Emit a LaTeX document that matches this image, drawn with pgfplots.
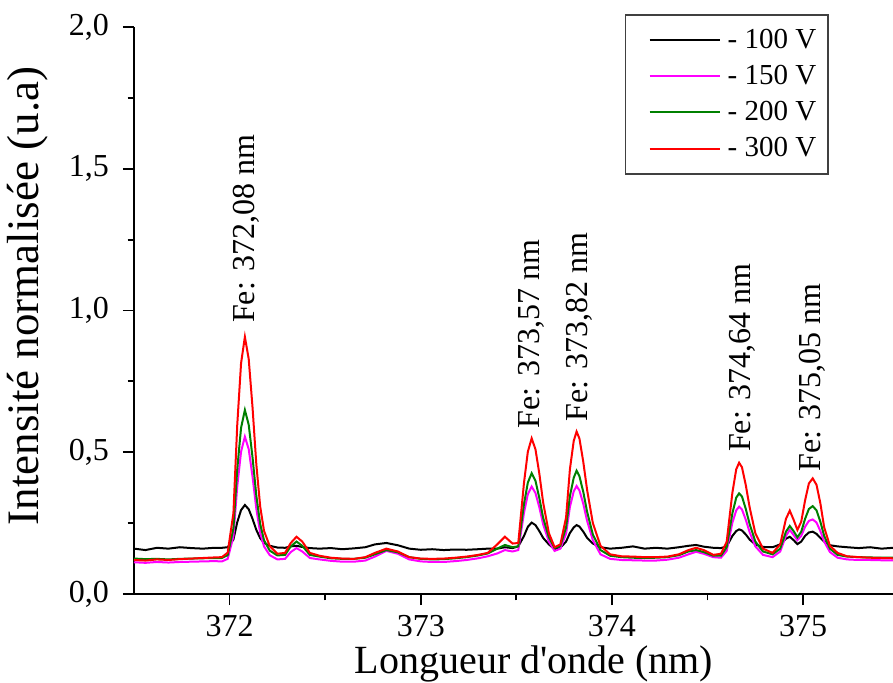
\documentclass[border=0pt]{standalone}
\usepackage{fontspec}
\setmainfont{Liberation Serif}
\usepackage{pgfplots}
\usepackage{pgfplotstable}
\pgfplotsset{compat=1.18}
\definecolor{cmag}{RGB}{255,0,255}
\definecolor{cgreen}{RGB}{0,128,0}
\definecolor{cred}{RGB}{255,0,0}
\pgfplotstableread{
x k m g r
371.50 0.160 0.112 0.125 0.120
371.56 0.155 0.110 0.123 0.118
371.62 0.163 0.113 0.124 0.122
371.68 0.160 0.111 0.122 0.120
371.74 0.165 0.113 0.124 0.123
371.80 0.162 0.114 0.125 0.125
371.86 0.160 0.115 0.126 0.127
371.92 0.163 0.116 0.127 0.129
371.96 0.163 0.115 0.127 0.130
371.99 0.165 0.124 0.137 0.146
372.02 0.192 0.203 0.231 0.285
372.04 0.253 0.379 0.440 0.596
372.06 0.296 0.502 0.586 0.814
372.08 0.314 0.555 0.649 0.907
372.10 0.299 0.511 0.597 0.829
372.12 0.265 0.414 0.482 0.658
372.14 0.226 0.300 0.346 0.456
372.16 0.197 0.216 0.247 0.309
372.18 0.180 0.168 0.190 0.223
372.21 0.170 0.137 0.153 0.169
372.25 0.164 0.122 0.136 0.142
372.29 0.163 0.124 0.138 0.145
372.32 0.168 0.148 0.168 0.180
372.35 0.170 0.162 0.185 0.202
372.38 0.166 0.150 0.170 0.185
372.42 0.162 0.127 0.138 0.145
372.47 0.160 0.122 0.132 0.135
372.53 0.162 0.117 0.126 0.128
372.59 0.158 0.114 0.124 0.125
372.65 0.161 0.114 0.124 0.124
372.71 0.165 0.118 0.128 0.130
372.76 0.175 0.132 0.140 0.145
372.82 0.180 0.152 0.155 0.160
372.88 0.172 0.142 0.147 0.150
372.94 0.160 0.122 0.130 0.130
373.00 0.156 0.115 0.124 0.125
373.06 0.158 0.113 0.122 0.124
373.12 0.155 0.113 0.123 0.125
373.18 0.157 0.116 0.126 0.128
373.24 0.156 0.120 0.130 0.132
373.30 0.158 0.126 0.136 0.138
373.35 0.160 0.133 0.143 0.145
373.40 0.160 0.143 0.160 0.175
373.44 0.165 0.155 0.173 0.202
373.48 0.162 0.150 0.165 0.178
373.51 0.168 0.155 0.168 0.180
373.54 0.205 0.287 0.318 0.393
373.56 0.237 0.352 0.393 0.502
373.58 0.252 0.379 0.426 0.549
373.60 0.243 0.356 0.399 0.510
373.62 0.222 0.306 0.339 0.425
373.64 0.198 0.246 0.269 0.323
373.67 0.175 0.185 0.200 0.215
373.70 0.158 0.152 0.162 0.165
373.73 0.163 0.160 0.170 0.175
373.76 0.185 0.213 0.235 0.270
373.78 0.215 0.307 0.345 0.440
373.80 0.235 0.362 0.410 0.540
373.815 0.243 0.381 0.435 0.573
373.83 0.238 0.365 0.415 0.548
373.85 0.220 0.318 0.360 0.466
373.87 0.198 0.258 0.290 0.367
373.90 0.178 0.190 0.210 0.250
373.94 0.165 0.140 0.155 0.170
373.99 0.160 0.124 0.135 0.140
374.05 0.163 0.120 0.130 0.133
374.11 0.168 0.119 0.128 0.132
374.17 0.160 0.118 0.127 0.130
374.23 0.163 0.118 0.128 0.130
374.29 0.160 0.121 0.130 0.132
374.35 0.165 0.128 0.137 0.140
374.40 0.170 0.140 0.150 0.155
374.44 0.173 0.149 0.155 0.163
374.48 0.167 0.142 0.148 0.155
374.53 0.163 0.130 0.135 0.138
374.57 0.162 0.128 0.135 0.142
374.60 0.168 0.152 0.165 0.184
374.63 0.205 0.252 0.285 0.358
374.65 0.222 0.295 0.340 0.440
374.665 0.228 0.308 0.355 0.463
374.68 0.224 0.298 0.344 0.447
374.70 0.210 0.262 0.300 0.384
374.72 0.192 0.218 0.247 0.306
374.75 0.175 0.168 0.185 0.214
374.79 0.166 0.138 0.150 0.160
374.84 0.165 0.130 0.140 0.145
374.88 0.175 0.150 0.160 0.175
374.91 0.195 0.205 0.220 0.265
374.93 0.202 0.226 0.240 0.294
374.95 0.190 0.208 0.222 0.262
374.97 0.176 0.190 0.200 0.226
374.99 0.185 0.205 0.220 0.255
375.01 0.205 0.237 0.265 0.330
375.03 0.217 0.258 0.300 0.390
375.05 0.220 0.263 0.310 0.408
375.07 0.212 0.252 0.295 0.385
375.09 0.198 0.222 0.255 0.320
375.11 0.185 0.185 0.205 0.235
375.14 0.172 0.148 0.160 0.170
375.18 0.168 0.128 0.138 0.145
375.23 0.165 0.122 0.132 0.133
375.29 0.162 0.120 0.130 0.130
375.35 0.165 0.120 0.129 0.128
375.41 0.160 0.119 0.128 0.127
375.47 0.163 0.119 0.128 0.126
}\spectra
\begin{document}
\begin{tikzpicture}
\begin{axis}[
  scale only axis, width=379.5pt, height=283.5pt,
  xmin=371.5, xmax=375.47, ymin=0, ymax=2,
  axis x line=bottom, axis y line=left,
  axis line style={-, line width=1pt},
  tick align=outside,
  major tick length=5.5pt, minor tick length=3.2pt,
  tick style={line width=0.9pt, black},
  xtick={372,373,374,375}, ytick={0,0.5,1,1.5,2},
  minor x tick num=1, minor y tick num=1,
  /pgf/number format/assume math mode=true,
  xticklabel style={/pgf/number format/1000 sep={}, font=\fontsize{16}{19}\selectfont, yshift=-1.5pt},
  yticklabel style={/pgf/number format/.cd, fixed, fixed zerofill, precision=1, use comma, /tikz/.cd, font=\fontsize{16}{19}\selectfont, xshift=-3.5pt},
  xlabel={Longueur d\textquotesingle onde (nm)},
  ylabel={Intensité normalisée (u.a)},
  xlabel style={at={(axis description cs:0.527,-0.141)}, anchor=base, font=\fontsize{20}{24}\selectfont},
  ylabel style={at={(axis description cs:-0.1397,0.5256)}, anchor=center, rotate=0, font=\fontsize{22.5}{27}\selectfont},
  legend cell align=left,
  legend style={at={(rel axis cs:0.9157,1.023)}, anchor=north east, draw=black!75, line width=0.8pt,
    font=\fontsize{14.5}{17}\selectfont, inner xsep=11.5pt, inner ysep=5pt, row sep=3pt,
    nodes={inner xsep=3.5pt}},
  legend image code/.code={\draw[#1, line width=1pt] (0pt,0pt) -- (35pt,0pt);},
  every axis plot/.append style={line width=1pt},
  clip=false,
]
\addplot[black] table[x=x, y=k] {\spectra};
\addplot[cmag] table[x=x, y=m] {\spectra};
\addplot[cgreen] table[x=x, y=g] {\spectra};
\addplot[cred] table[x=x, y=r] {\spectra};
\legend{- 100 V\hspace*{-9pt}, - 150 V\hspace*{-9pt}, - 200 V\hspace*{-9pt}, - 300 V\hspace*{-9pt}}
\node[rotate=90, anchor=west, font=\fontsize{16}{19}\selectfont, inner sep=0pt] at (axis cs:372.09,0.955) {Fe: 372,08 nm};
\node[rotate=90, anchor=west, font=\fontsize{16}{19}\selectfont, inner sep=0pt] at (axis cs:373.58,0.584) {Fe: 373,57 nm};
\node[rotate=90, anchor=west, font=\fontsize{16}{19}\selectfont, inner sep=0pt] at (axis cs:373.83,0.608) {Fe: 373,82 nm};
\node[rotate=90, anchor=west, font=\fontsize{16}{19}\selectfont, inner sep=0pt] at (axis cs:374.68,0.50) {Fe: 374,64 nm};
\node[rotate=90, anchor=west, font=\fontsize{16}{19}\selectfont, inner sep=0pt] at (axis cs:375.05,0.43) {Fe: 375,05 nm};
\end{axis}
\pgfresetboundingbox
\path (-67pt,-44pt) rectangle (379.5pt,297pt);
\end{tikzpicture}
\end{document}
